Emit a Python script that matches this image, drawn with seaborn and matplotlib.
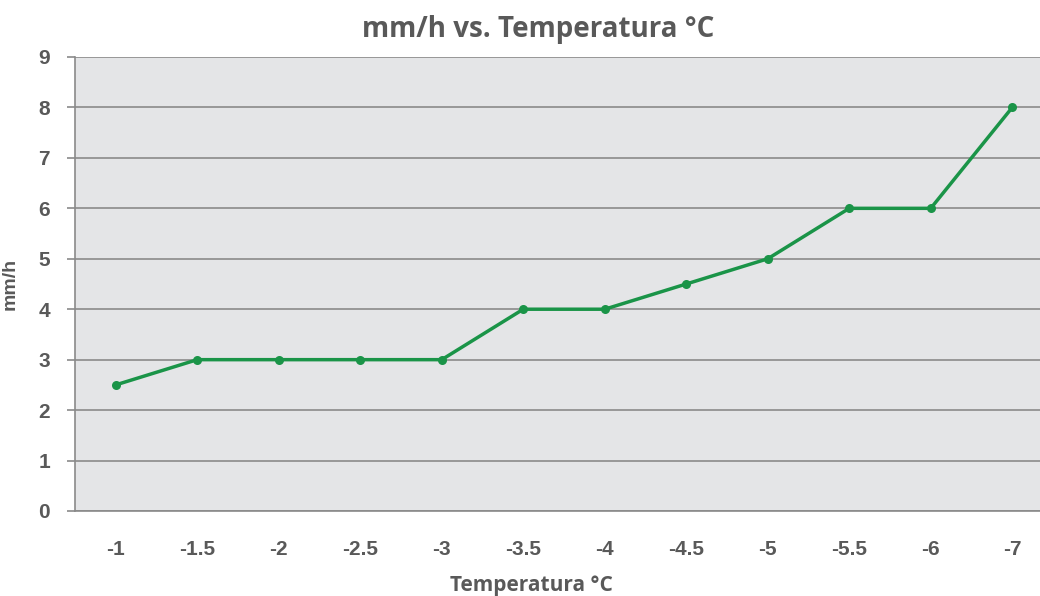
import matplotlib
matplotlib.use("Agg")
import matplotlib.pyplot as plt
import seaborn as sns
import numpy as np
import pandas as pd

temps = ["-1", "-1.5", "-2", "-2.5", "-3", "-3.5", "-4", "-4.5", "-5", "-5.5", "-6", "-7"]
mmh = [2.5, 3, 3, 3, 3, 4, 4, 4.5, 5, 6, 6, 8]
yticks = [0, 1, 2, 3, 4, 5, 6, 7, 8, 9]

sns.set_theme(style="white")
plt.rcParams['font.family'] = ['Liberation Sans', 'DejaVu Sans']

df = pd.DataFrame({"Temperatura": temps, "mmh": mmh})

fig = plt.figure(figsize=(10.4, 5.96), dpi=100)
ax = fig.add_axes([75/1040, 1 - 511/596, 978/1040, (511-57)/596])
ax.set_facecolor("#e4e5e7")

green = "#1a9448"
sns.lineplot(data=df, x="Temperatura", y="mmh", ax=ax, color=green, linewidth=2.5,
             marker="o", markersize=6.5, markeredgewidth=0, sort=False, zorder=3)

n = len(temps)
ax.set_xlim(-0.5, n - 0.5)
ax.set_ylim(0, 9)
ax.set_yticks(yticks)
ax.yaxis.grid(True, color="#8a8a8a", linewidth=1.2)
ax.set_axisbelow(True)

grey_txt = "#595959"
ax.set_xticks(range(n))
ax.set_xticklabels(temps, fontsize=15, fontweight="bold", color=grey_txt)
ax.set_xticks(np.arange(-0.5, n, 1.0), minor=True)
ax.tick_params(axis="x", which="major", length=0, pad=21)
ax.tick_params(axis="x", which="minor", length=7, width=1.2, color="#8a8a8a", direction="out")
ax.set_yticklabels([str(v) for v in yticks], fontsize=15, fontweight="bold", color=grey_txt)
ax.tick_params(axis="y", which="major", length=6, width=1.2, color="#8a8a8a", pad=12, left=True)

for s in ["top", "right"]:
    ax.spines[s].set_visible(False)
for s in ["left", "bottom"]:
    ax.spines[s].set_color("#8a8a8a")
    ax.spines[s].set_linewidth(1.2)

ax.set_xlabel("")
ax.set_ylabel("mm/h", fontsize=14, fontweight="bold", color=grey_txt, labelpad=14)
fig.text(531/1040, 1 - 585/596, "Temperatura °C", ha="center", va="center",
         fontsize=15, fontweight="bold", color=grey_txt, family=["Open Sans", "DejaVu Sans"])
fig.text(538/1040, 1 - 30/596, "mm/h vs. Temperatura °C", ha="center", va="center",
         fontsize=20, fontweight="bold", color=grey_txt, family=["Open Sans", "DejaVu Sans"])

fig.savefig("out.png", dpi=100)
